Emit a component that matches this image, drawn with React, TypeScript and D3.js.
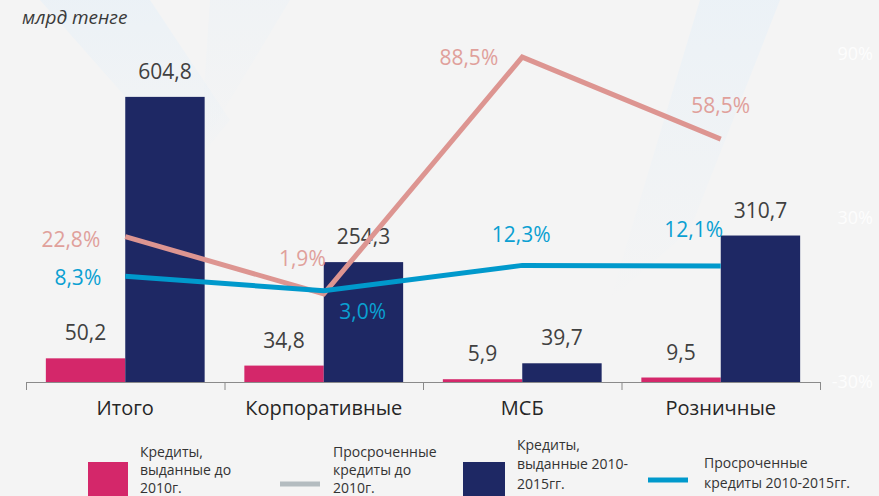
import React from "react";
import * as d3 from "d3";

const categories = ["Итого", "Корпоративные", "МСБ", "Розничные"];
const loansBefore2010 = [50.2, 34.8, 5.9, 9.5];
const loans2010_2015 = [604.8, 254.3, 39.7, 310.7];
const overdueBefore2010 = [22.8, 1.9, 88.5, 58.5];
const overdue2010_2015 = [8.3, 3.0, 12.3, 12.1];
const rightTicks = [-30, 30, 90];

const W = 879;
const H = 496;
const FONT = "'Open Sans', 'DejaVu Sans', sans-serif";
const PINK = "#d4276a";
const NAVY = "#1e2864";
const PINK_LINE = "#dd9591";
const BLUE_LINE = "#0099cc";

// label placements (layout only)
const pinkLabelPos = [
  { dx: -25, dy: 10, a: "end" },
  { dx: 2, dy: -28, a: "end" },
  { dx: -24, dy: 8, a: "end" },
  { dx: 0, dy: -26, a: "middle" },
];
const blueLabelPos = [
  { dx: -24, dy: 9, a: "end" },
  { dx: 39, dy: 28, a: "middle" },
  { dx: -1, dy: -23, a: "middle" },
  { dx: -27, dy: -29, a: "middle" },
];

const fmt = (v: number) => v.toFixed(1).replace(".", ",");

export default function App() {
  const x = d3.scaleBand<string>().domain(categories).range([26, 820]).padding(0);
  const xi = d3
    .scaleBand<number>()
    .domain([0, 1])
    .range([0, x.bandwidth()])
    .paddingInner(0)
    .paddingOuter(0.25);
  const y = d3.scaleLinear().domain([0, 700]).range([382, 52]);
  const yr = d3.scaleLinear().domain([-30, 90]).range([381, 53]);
  const cx = (c: string) => (x(c) as number) + x.bandwidth() / 2;

  const line = d3
    .line<number>()
    .x((_, i) => cx(categories[i]))
    .y((d) => yr(d));

  const barsData = [loansBefore2010, loans2010_2015];
  const barColors = [PINK, NAVY];

  const boundaries = [...categories.map((c) => x(c) as number), 820];

  return (
    <svg
      width={W}
      height={H}
      style={{ position: "absolute", left: 0, top: 0, background: "#f4f4f4" }}
    >
      <defs>
        <linearGradient id="wm" x1="0" y1="0" x2="0" y2="1">
          <stop offset="0" stopColor="#e6f0f8" stopOpacity="0.6" />
          <stop offset="1" stopColor="#e6f0f8" stopOpacity="0" />
        </linearGradient>
      </defs>
      <rect x={0} y={0} width={W} height={H} fill="#f4f4f4" />
      {/* faint watermark */}
      <polygon points="40,0 150,0 230,120 190,170" fill="url(#wm)" />
      <polygon points="210,0 290,0 200,150" fill="url(#wm)" opacity="0.5" />
      <polygon points="700,0 780,0 690,230 610,300" fill="url(#wm)" />

      <text x={22} y={24} fontFamily={FONT} fontStyle="italic" fontSize={19} fill="#3a3a3a">
        млрд тенге
      </text>

      {/* right axis labels */}
      {rightTicks.map((t) => (
        <text
          key={t}
          x={873}
          y={yr(t) + 7}
          textAnchor="end"
          fontFamily={FONT}
          fontSize={18}
          fill="#fdfdfd"
        >
          {t}%
        </text>
      ))}

      {/* bars */}
      {barsData.map((series, si) =>
        series.map((v, i) => {
          const bx = (x(categories[i]) as number) + (xi(si) as number);
          return (
            <g key={`${si}-${i}`}>
              <rect
                x={bx}
                y={y(v)}
                width={xi.bandwidth()}
                height={y(0) - y(v)}
                fill={barColors[si]}
              />
              <text
                x={bx + xi.bandwidth() / 2}
                y={y(v) - 18}
                textAnchor="middle"
                fontFamily={FONT}
                fontSize={21}
                fill="#404040"
              >
                {fmt(v)}
              </text>
            </g>
          );
        })
      )}

      {/* x axis */}
      <line x1={26} x2={820} y1={382.5} y2={382.5} stroke="#8a8a8a" strokeWidth={1} />
      {boundaries.map((b, i) => (
        <line key={i} x1={b + 0.5} x2={b + 0.5} y1={382} y2={390} stroke="#8a8a8a" strokeWidth={1} />
      ))}
      {categories.map((c) => (
        <text
          key={c}
          x={cx(c)}
          y={415}
          textAnchor="middle"
          fontFamily={FONT}
          fontSize={20}
          fill="#262626"
        >
          {c}
        </text>
      ))}

      {/* lines */}
      <path d={line(overdueBefore2010) || ""} fill="none" stroke={PINK_LINE} strokeWidth={5} strokeLinejoin="miter" />
      <path d={line(overdue2010_2015) || ""} fill="none" stroke={BLUE_LINE} strokeWidth={5} strokeLinejoin="miter" />

      {overdueBefore2010.map((v, i) => (
        <text
          key={`p${i}`}
          x={cx(categories[i]) + pinkLabelPos[i].dx}
          y={yr(v) + pinkLabelPos[i].dy}
          textAnchor={pinkLabelPos[i].a as any}
          fontFamily={FONT}
          fontSize={21}
          fill="#e0a09b"
        >
          {fmt(v)}%
        </text>
      ))}
      {overdue2010_2015.map((v, i) => (
        <text
          key={`b${i}`}
          x={cx(categories[i]) + blueLabelPos[i].dx}
          y={yr(v) + blueLabelPos[i].dy}
          textAnchor={blueLabelPos[i].a as any}
          fontFamily={FONT}
          fontSize={21}
          fill="#0aa0d2"
        >
          {fmt(v)}%
        </text>
      ))}

      {/* legend */}
      <g fontFamily={FONT} fontSize={14} fill="#333">
        <rect x={88} y={462} width={40} height={34} fill={PINK} />
        <text x={140} y={457}>Кредиты,</text>
        <text x={140} y={475}>выданные до</text>
        <text x={140} y={493}>2010г.</text>

        <rect x={280} y={481.5} width={40} height={5} fill="#b4bcc0" />
        <text x={333} y={457}>Просроченные</text>
        <text x={333} y={475}>кредиты до</text>
        <text x={333} y={493}>2010г.</text>

        <rect x={463} y={462} width={42} height={34} fill={NAVY} />
        <text x={517} y={450}>Кредиты,</text>
        <text x={517} y={469}>выданные 2010-</text>
        <text x={517} y={489}>2015гг.</text>

        <rect x={648} y={477.5} width={40} height={5} fill={BLUE_LINE} />
        <text x={704} y={468}>Просроченные</text>
        <text x={704} y={488}>кредиты 2010-2015гг.</text>
      </g>
    </svg>
  );
}
